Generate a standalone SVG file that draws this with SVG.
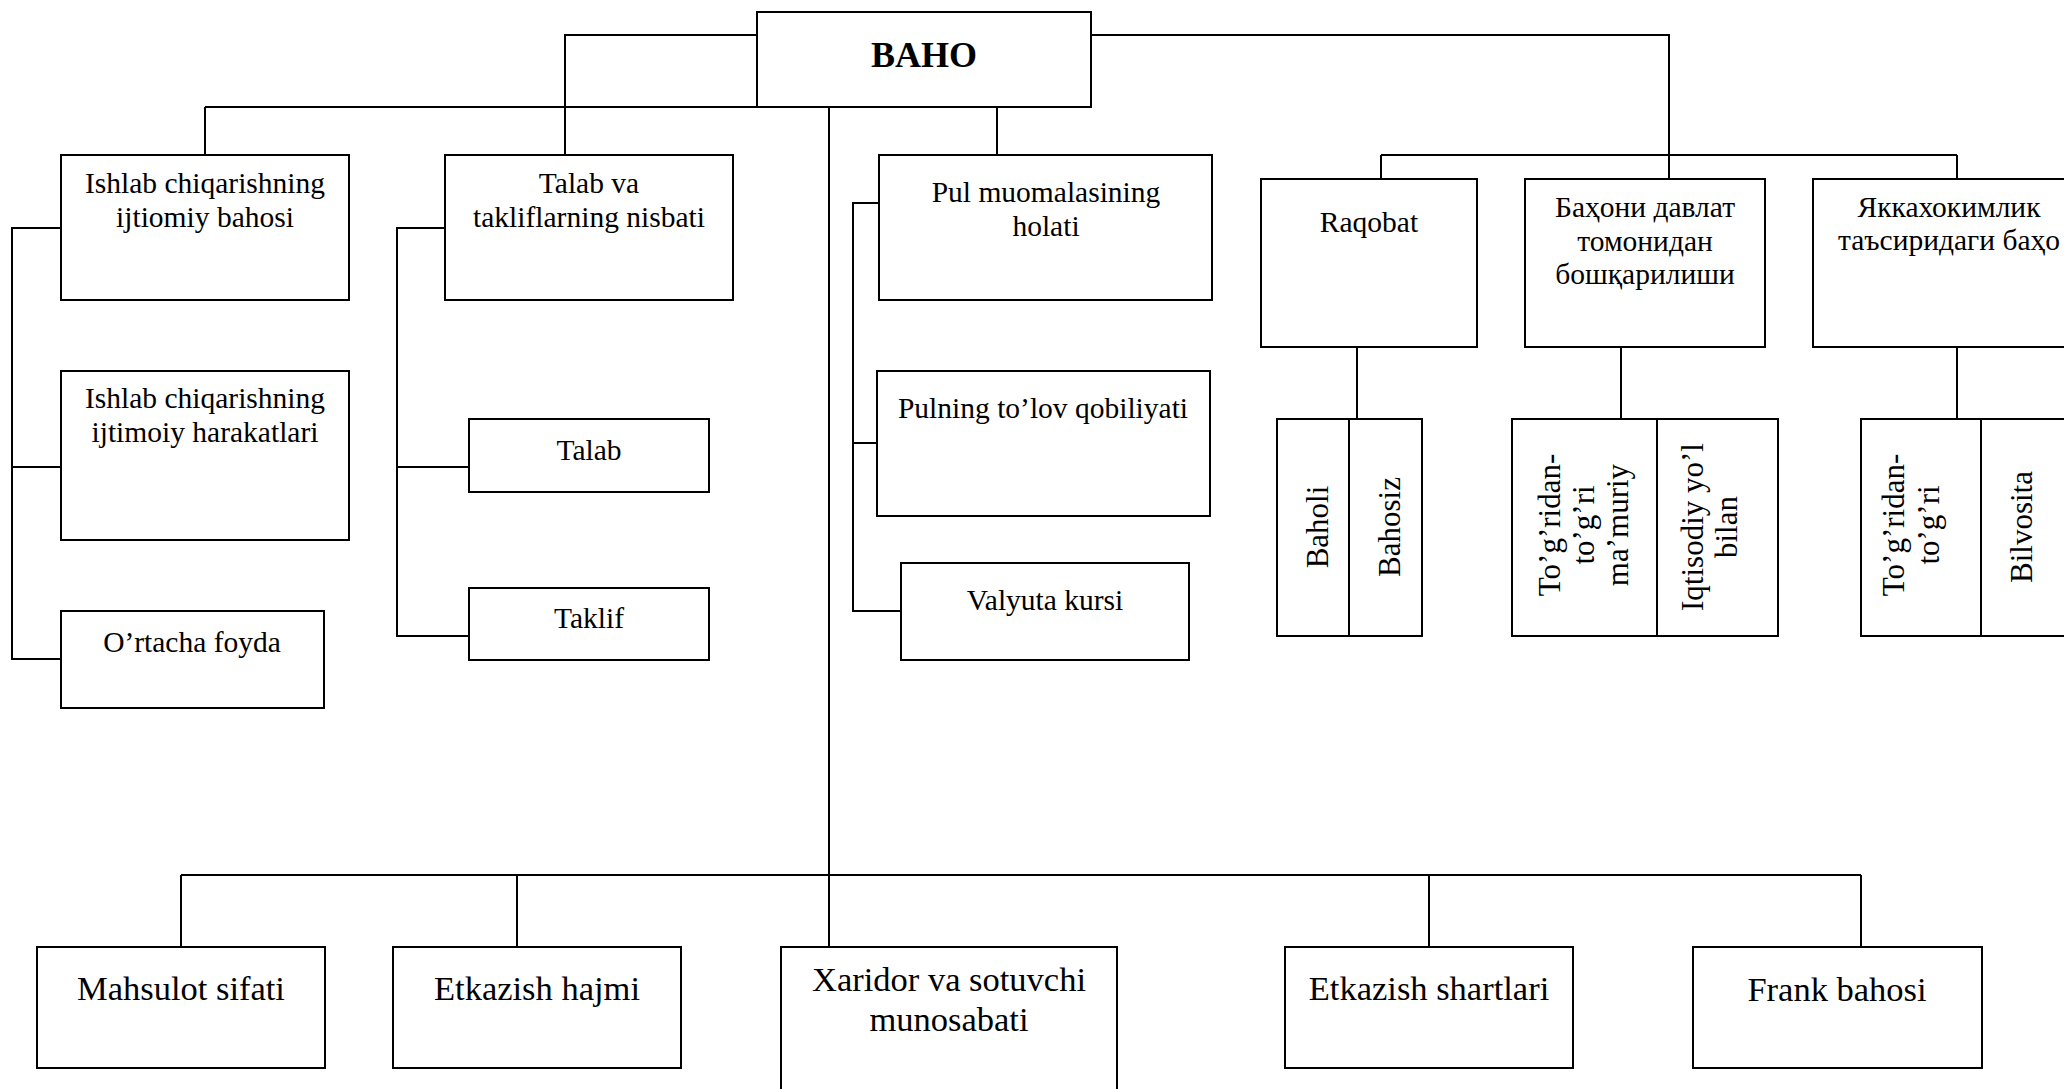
<svg xmlns="http://www.w3.org/2000/svg" width="2064" height="1089" viewBox="0 0 2064 1089">
<style>
rect{fill:#fff;stroke:#000;stroke-width:2}
.c line,.c polyline{stroke:#000;stroke-width:2;fill:none}
text{font-family:"Liberation Serif","Times New Roman",serif;fill:#000;text-anchor:middle}
.t{font-size:29.5px}
.b{font-size:34.5px}
.v{font-size:31px}
.h{font-size:36px;font-weight:bold}
</style>
<rect x="0" y="0" width="2064" height="1089" style="stroke:none"/>
<g class="c" id="connectors">
<polyline points="757,35 565,35 565,155"/>
<line x1="205" y1="107" x2="997" y2="107"/>
<line x1="205" y1="107" x2="205" y2="155"/>
<line x1="997" y1="107" x2="997" y2="155"/>
<line x1="829" y1="107" x2="829" y2="875"/>
<line x1="181" y1="875" x2="1861" y2="875"/>
<line x1="181" y1="875" x2="181" y2="947"/>
<line x1="517" y1="875" x2="517" y2="947"/>
<line x1="829" y1="875" x2="829" y2="947"/>
<line x1="1429" y1="875" x2="1429" y2="947"/>
<line x1="1861" y1="875" x2="1861" y2="947"/>
<polyline points="1091,35 1669,35 1669,179"/>
<line x1="1381" y1="155" x2="1957" y2="155"/>
<line x1="1381" y1="155" x2="1381" y2="179"/>
<line x1="1957" y1="155" x2="1957" y2="179"/>
<line x1="1357" y1="347" x2="1357" y2="419"/>
<line x1="1621" y1="347" x2="1621" y2="419"/>
<line x1="1957" y1="347" x2="1957" y2="419"/>
<polyline points="61,228 12,228 12,659 61,659"/>
<line x1="12" y1="467" x2="61" y2="467"/>
<polyline points="445,228 397,228 397,636 469,636"/>
<line x1="397" y1="467" x2="469" y2="467"/>
<polyline points="879,203 853,203 853,611 901,611"/>
<line x1="853" y1="443" x2="877" y2="443"/>
</g>
<g id="baho"><rect x="757" y="12" width="334" height="95"/><text class="h" x="924" y="67">BAHO</text></g>
<g id="n-ishlab1"><rect x="61" y="155" width="288" height="145"/><text class="t" x="205" y="193">Ishlab chiqarishning</text><text class="t" x="205" y="227">ijtiomiy bahosi</text></g>
<g id="n-talabva"><rect x="445" y="155" width="288" height="145"/><text class="t" x="589" y="193">Talab va</text><text class="t" x="589" y="227">takliflarning nisbati</text></g>
<g id="n-pul"><rect x="879" y="155" width="333" height="145"/><text class="t" x="1046" y="202">Pul muomalasining</text><text class="t" x="1046" y="236">holati</text></g>
<g id="n-ishlab2"><rect x="61" y="371" width="288" height="169"/><text class="t" x="205" y="408">Ishlab chiqarishning</text><text class="t" x="205" y="442">ijtimoiy harakatlari</text></g>
<g id="n-ortacha"><rect x="61" y="611" width="263" height="97"/><text class="t" x="192" y="652">O’rtacha foyda</text></g>
<g id="n-talab"><rect x="469" y="419" width="240" height="73"/><text class="t" x="589" y="460">Talab</text></g>
<g id="n-taklif"><rect x="469" y="588" width="240" height="72"/><text class="t" x="589" y="628">Taklif</text></g>
<g id="n-pulning"><rect x="877" y="371" width="333" height="145"/><text class="t" x="1043" y="418">Pulning to’lov qobiliyati</text></g>
<g id="n-valyuta"><rect x="901" y="563" width="288" height="97"/><text class="t" x="1045" y="610">Valyuta kursi</text></g>
<g id="n-raqobat"><rect x="1261" y="179" width="216" height="168"/><text class="t" x="1369" y="232">Raqobat</text></g>
<g id="n-davlat"><rect x="1525" y="179" width="240" height="168"/><text class="t" x="1645" y="217">Баҳони давлат</text><text class="t" x="1645" y="251">томонидан</text><text class="t" x="1645" y="284">бошқарилиши</text></g>
<g id="n-yakka"><rect x="1813" y="179" width="272" height="168"/><text class="t" x="1949" y="217">Яккахокимлик</text><text class="t" x="1949" y="250">таъсиридаги баҳо</text></g>
<g id="n-baholi"><rect x="1277" y="419" width="72" height="217"/><text class="v" transform="translate(1328,527) rotate(-90)">Baholi</text></g>
<g id="n-bahosiz"><rect x="1349" y="419" width="73" height="217"/><text class="v" transform="translate(1400,527) rotate(-90)">Bahosiz</text></g>
<g id="n-togri1"><rect x="1512" y="419" width="145" height="217"/><text class="v" transform="translate(1560,525) rotate(-90)">To’g’ridan-</text><text class="v" transform="translate(1594,525) rotate(-90)">to’g’ri</text><text class="v" transform="translate(1628,525) rotate(-90)">ma’muriy</text></g>
<g id="n-iqtisodiy"><rect x="1657" y="419" width="121" height="217"/><text class="v" transform="translate(1703,527) rotate(-90)">Iqtisodiy yo’l</text><text class="v" transform="translate(1737,527) rotate(-90)">bilan</text></g>
<g id="n-togri2"><rect x="1861" y="419" width="120" height="217"/><text class="v" transform="translate(1904,525) rotate(-90)">To’g’ridan-</text><text class="v" transform="translate(1939,525) rotate(-90)">to’g’ri</text></g>
<g id="n-bilvosita"><rect x="1981" y="419" width="100" height="217"/><text class="v" transform="translate(2032,527) rotate(-90)">Bilvosita</text></g>
<g id="n-mahsulot"><rect x="37" y="947" width="288" height="121"/><text class="b" x="181" y="1000">Mahsulot sifati</text></g>
<g id="n-hajmi"><rect x="393" y="947" width="288" height="121"/><text class="b" x="537" y="1000">Etkazish hajmi</text></g>
<g id="n-xaridor"><rect x="781" y="947" width="336" height="160"/><text class="b" x="949" y="991">Xaridor va sotuvchi</text><text class="b" x="949" y="1031">munosabati</text></g>
<g id="n-shartlari"><rect x="1285" y="947" width="288" height="121"/><text class="b" x="1429" y="1000">Etkazish shartlari</text></g>
<g id="n-frank"><rect x="1693" y="947" width="289" height="121"/><text class="b" x="1837" y="1001">Frank bahosi</text></g>
</svg>
